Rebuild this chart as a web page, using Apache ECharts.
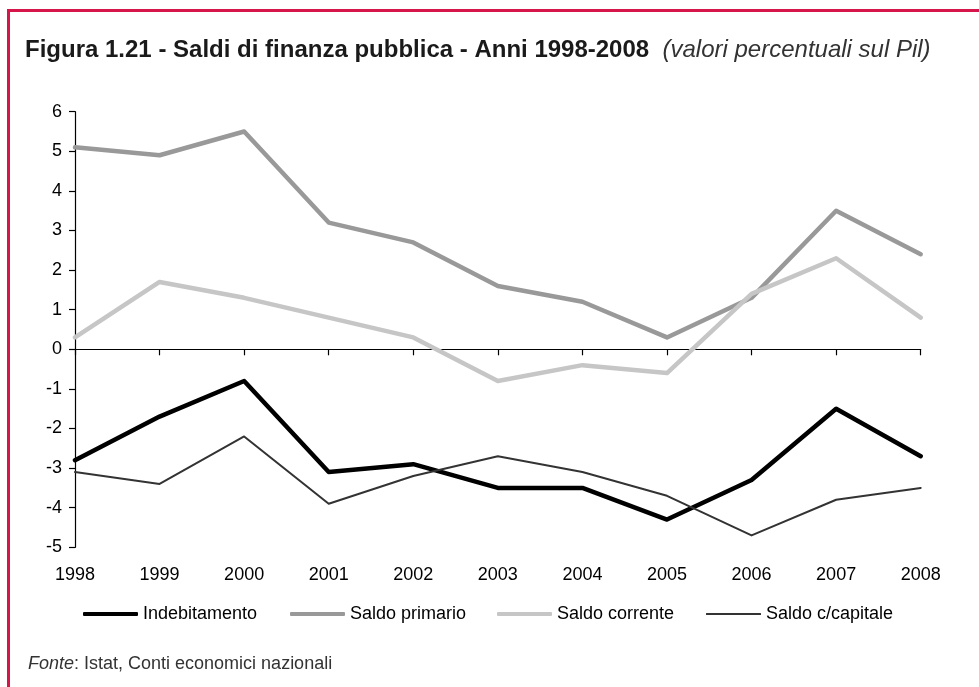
<!DOCTYPE html>
<html>
<head>
<meta charset="utf-8">
<script src="https://cdn.jsdelivr.net/npm/echarts@6/dist/echarts.min.js"></script>
<style>
html,body{margin:0;padding:0;background:#fff;}
#chart{width:979px;height:687px;}
</style>
</head>
<body>
<div id="chart"></div>
<script>
const years = ['1998','1999','2000','2001','2002','2003','2004','2005','2006','2007','2008'];
const indebitamento = [-2.8, -1.7, -0.8, -3.1, -2.9, -3.5, -3.5, -4.3, -3.3, -1.5, -2.7];
const saldoPrimario = [5.1, 4.9, 5.5, 3.2, 2.7, 1.6, 1.2, 0.3, 1.3, 3.5, 2.4];
const saldoCorrente = [0.3, 1.7, 1.3, 0.8, 0.3, -0.8, -0.4, -0.6, 1.4, 2.3, 0.8];
const saldoCapitale = [-3.1, -3.4, -2.2, -3.9, -3.2, -2.7, -3.1, -3.7, -4.7, -3.8, -3.5];
const seriesNames = ['Indebitamento', 'Saldo primario', 'Saldo corrente', 'Saldo c/capitale'];
const yTicks = { min: -5, max: 6, interval: 1 };

const FONT = '"Liberation Sans", Arial, Helvetica, sans-serif';
const colors = ['#000000', '#999999', '#c6c6c6', '#333333'];
const widths = [4.5, 4.5, 4.5, 2];
const legendLeft = [83, 290, 497, 706];

const chart = echarts.init(document.getElementById('chart'));

const legends = seriesNames.map((n, i) => ({
  data: [n],
  left: legendLeft[i],
  top: 605,
  padding: 0,
  itemWidth: 55,
  itemHeight: widths[i] > 3 ? 4 : 2,
  icon: 'roundRect',
  textStyle: { fontFamily: FONT, fontSize: 18, color: '#000' },
  selectedMode: false
}));

const option = {
  backgroundColor: '#fff',
  animation: false,
  grid: { left: 75, right: 58.3, top: 111.7, bottom: 139.7, containLabel: false },
  legend: legends,
  xAxis: [
    {
      type: 'category', data: years, boundaryGap: false,
      axisLine: { onZero: true, lineStyle: { color: '#000', width: 1.2 } },
      axisTick: { show: true, length: 6, lineStyle: { color: '#000', width: 1.2 } },
      axisLabel: { show: false },
      splitLine: { show: false }
    },
    {
      type: 'category', data: years, boundaryGap: false, position: 'bottom',
      axisLine: { show: false, onZero: false },
      axisTick: { show: false },
      axisLabel: { show: true, margin: 19, fontFamily: FONT, fontSize: 18, color: '#000' },
      splitLine: { show: false }
    }
  ],
  yAxis: {
    type: 'value', min: yTicks.min, max: yTicks.max, interval: yTicks.interval,
    axisLine: { show: true, lineStyle: { color: '#000', width: 1.2 } },
    axisTick: { show: true, length: 6, lineStyle: { color: '#000', width: 1.2 } },
    axisLabel: { margin: 13, fontFamily: FONT, fontSize: 18, color: '#000' },
    splitLine: { show: false }
  },
  series: [indebitamento, saldoPrimario, saldoCorrente, saldoCapitale].map((d, i) => ({
    name: seriesNames[i], type: 'line', data: d, xAxisIndex: 0,
    symbol: 'none', smooth: false,
    lineStyle: { color: colors[i], width: widths[i], join: 'round', cap: 'round' },
    itemStyle: { color: colors[i] },
    emphasis: { disabled: true }
  })),
  graphic: [
    {
      type: 'rect', silent: true,
      shape: { x: 8.5, y: 10.5, width: 1000, height: 700 },
      style: { fill: 'none', stroke: '#d6154a', lineWidth: 3 }
    },
    {
      type: 'text', left: 25, top: 38,
      style: {
        text: '{b|Figura 1.21 - Saldi di finanza pubblica - Anni 1998-2008}{i|  (valori percentuali sul Pil)}',
        rich: {
          b: { fontFamily: FONT, fontSize: 24, fontWeight: 'bold', fill: '#1a1a1a' },
          i: { fontFamily: FONT, fontSize: 24, fontStyle: 'italic', fill: '#333' }
        }
      }
    },
    {
      type: 'text', left: 28, top: 655,
      style: {
        text: '{i|Fonte}{n|: Istat, Conti economici nazionali}',
        rich: {
          i: { fontFamily: FONT, fontSize: 18, fontStyle: 'italic', fill: '#333' },
          n: { fontFamily: FONT, fontSize: 18, fill: '#333' }
        }
      }
    }
  ]
};
chart.setOption(option);
</script>
</body>
</html>
